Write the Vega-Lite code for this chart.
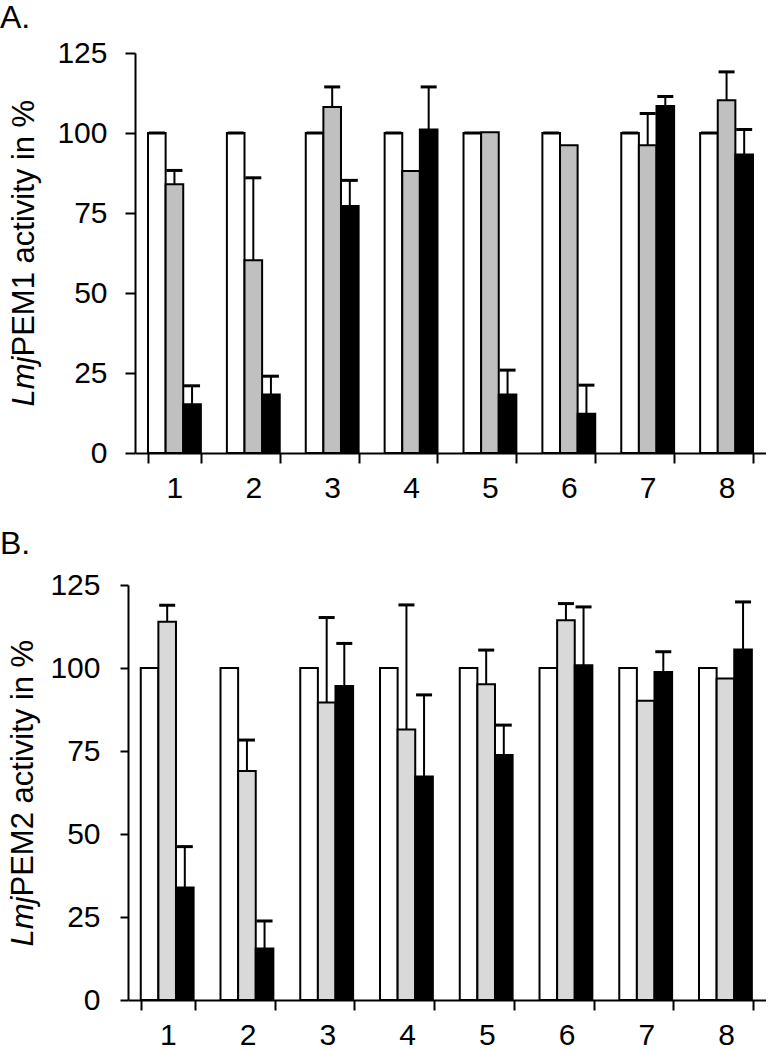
{
  "$schema": "https://vega.github.io/schema/vega-lite/v6.json",
  "padding": {"left": 0, "top": 2, "right": 0, "bottom": 0},
  "spacing": 25,
  "align": "none",
  "bounds": "full",
  "resolve": {"scale": {"fill": "independent"}},
  "config": {
    "view": {"stroke": null},
    "font": "Liberation Sans",
    "axis": {"labelFont": "Liberation Sans", "titleFont": "Liberation Sans", "labelColor": "black", "titleColor": "black", "domainColor": "black", "tickColor": "black", "grid": false, "domainWidth": 2, "tickWidth": 2, "titleFontWeight": "normal"}
  },
  "datasets": {
    "pem1": [
      {"group": "1", "series": "c", "value": 100, "hi": 100},
      {"group": "1", "series": "g", "value": 84, "hi": 88.3},
      {"group": "1", "series": "k", "value": 15.2, "hi": 21},
      {"group": "2", "series": "c", "value": 100, "hi": 100},
      {"group": "2", "series": "g", "value": 60.2, "hi": 86},
      {"group": "2", "series": "k", "value": 18.3, "hi": 24},
      {"group": "3", "series": "c", "value": 100, "hi": 100},
      {"group": "3", "series": "g", "value": 108.1, "hi": 114.4},
      {"group": "3", "series": "k", "value": 77.2, "hi": 85.2},
      {"group": "4", "series": "c", "value": 100, "hi": 100},
      {"group": "4", "series": "g", "value": 88.1, "hi": null},
      {"group": "4", "series": "k", "value": 101.1, "hi": 114.4},
      {"group": "5", "series": "c", "value": 100, "hi": 100},
      {"group": "5", "series": "g", "value": 100.2, "hi": null},
      {"group": "5", "series": "k", "value": 18.3, "hi": 25.9},
      {"group": "6", "series": "c", "value": 100, "hi": 100},
      {"group": "6", "series": "g", "value": 96.2, "hi": null},
      {"group": "6", "series": "k", "value": 12.3, "hi": 21.2},
      {"group": "7", "series": "c", "value": 100, "hi": 100},
      {"group": "7", "series": "g", "value": 96.2, "hi": 106.1},
      {"group": "7", "series": "k", "value": 108.4, "hi": 111.4},
      {"group": "8", "series": "c", "value": 100, "hi": 100},
      {"group": "8", "series": "g", "value": 110.2, "hi": 119.1},
      {"group": "8", "series": "k", "value": 93.3, "hi": 101.1}
    ],
    "pem2": [
      {"group": "1", "series": "c", "value": 100, "hi": null},
      {"group": "1", "series": "g", "value": 113.9, "hi": 118.9},
      {"group": "1", "series": "k", "value": 33.9, "hi": 46.2},
      {"group": "2", "series": "c", "value": 100, "hi": null},
      {"group": "2", "series": "g", "value": 69, "hi": 78.3},
      {"group": "2", "series": "k", "value": 15.5, "hi": 23.8},
      {"group": "3", "series": "c", "value": 100, "hi": null},
      {"group": "3", "series": "g", "value": 89.6, "hi": 115.2},
      {"group": "3", "series": "k", "value": 94.6, "hi": 107.4},
      {"group": "4", "series": "c", "value": 100, "hi": null},
      {"group": "4", "series": "g", "value": 81.5, "hi": 119},
      {"group": "4", "series": "k", "value": 67.3, "hi": 91.9},
      {"group": "5", "series": "c", "value": 100, "hi": null},
      {"group": "5", "series": "g", "value": 95.1, "hi": 105.4},
      {"group": "5", "series": "k", "value": 73.8, "hi": 82.8},
      {"group": "6", "series": "c", "value": 100, "hi": null},
      {"group": "6", "series": "g", "value": 114.4, "hi": 119.4},
      {"group": "6", "series": "k", "value": 100.8, "hi": 118.4},
      {"group": "7", "series": "c", "value": 100, "hi": null},
      {"group": "7", "series": "g", "value": 90.1, "hi": null},
      {"group": "7", "series": "k", "value": 98.8, "hi": 104.9},
      {"group": "8", "series": "c", "value": 100, "hi": null},
      {"group": "8", "series": "g", "value": 96.8, "hi": null},
      {"group": "8", "series": "k", "value": 105.6, "hi": 119.9}
    ]
  },
  "vconcat": [
    {
      "width": 638,
      "height": 400,
      "title": {"text": "A.", "anchor": "start", "frame": "bounds", "fontSize": 32, "fontWeight": "normal", "font": "Liberation Sans", "color": "black", "baseline": "alphabetic", "offset": -22, "dx": -8},
      "data": {"name": "pem1"},
      "encoding": {
        "x": {"field": "group", "type": "ordinal", "scale": {"range": [7, 638], "paddingInner": 0.33, "paddingOuter": 0.165},
              "axis": {"title": null, "labelAngle": 0, "labelFontSize": 30, "tickSize": 10, "tickBand": "extent", "labelPadding": 10}},
        "xOffset": {"field": "series", "type": "nominal", "scale": {"paddingInner": 0, "paddingOuter": 0}}
      },
      "layer": [
        {
          "mark": {"type": "bar", "stroke": "black", "strokeWidth": 2},
          "encoding": {
            "y": {"field": "value", "type": "quantitative", "scale": {"domain": [0, 125], "nice": false},
                  "axis": {"offset": -7, "values": [0, 25, 50, 75, 100, 125], "labelFontSize": 30, "labelPadding": 18, "tickSize": 10,
                           "title": "PEM1 activity in %", "titleFontSize": 31, "titleAngle": -90, "titleAlign": "left", "titleBaseline": "alphabetic", "titleX": -102, "titleY": 303}},
            "fill": {"field": "series", "type": "nominal", "scale": {"domain": ["c", "g", "k"], "range": ["#ffffff", "#c0c0c0", "#000000"]}, "legend": null}
          }
        },
        {
          "transform": [{"filter": "datum.hi != null"}],
          "mark": {"type": "rule", "color": "black", "strokeWidth": 2},
          "encoding": {
            "y": {"field": "value", "type": "quantitative", "scale": {"domain": [0, 125], "nice": false},
                  "axis": {"orient": "left", "offset": -7, "labels": false, "ticks": false, "domain": false, "title": "Lmj", "titleFontStyle": "italic", "titleFontSize": 31, "titleAngle": -90, "titleAlign": "right", "titleBaseline": "alphabetic", "titleX": -102, "titleY": 303}},
            "y2": {"field": "hi"}
          }
        },
        {
          "transform": [{"filter": "datum.hi != null"}],
          "mark": {"type": "tick", "orient": "horizontal", "size": 16, "thickness": 3, "color": "black", "opacity": 1},
          "encoding": {
            "y": {"field": "hi", "type": "quantitative", "scale": {"domain": [0, 125], "nice": false}, "axis": null}
          }
        }
      ],
      "resolve": {"axis": {"y": "independent"}}
    },
    {
      "width": 638,
      "height": 415,
      "title": {"text": "B.", "anchor": "start", "frame": "bounds", "fontSize": 32, "fontWeight": "normal", "font": "Liberation Sans", "color": "black", "baseline": "alphabetic", "offset": -16, "dx": -7},
      "data": {"name": "pem2"},
      "encoding": {
        "x": {"field": "group", "type": "ordinal", "scale": {"paddingInner": 0.32, "paddingOuter": 0.16},
              "axis": {"title": null, "labelAngle": 0, "labelFontSize": 30, "tickSize": 10, "tickBand": "extent", "labelPadding": 10}},
        "xOffset": {"field": "series", "type": "nominal", "scale": {"paddingInner": 0, "paddingOuter": 0}}
      },
      "layer": [
        {
          "mark": {"type": "bar", "stroke": "black", "strokeWidth": 2},
          "encoding": {
            "y": {"field": "value", "type": "quantitative", "scale": {"domain": [0, 125], "nice": false},
                  "axis": {"values": [0, 25, 50, 75, 100, 125], "labelFontSize": 30, "labelPadding": 20, "tickSize": 8,
                           "title": "PEM2 activity in %", "titleFontSize": 31, "titleAngle": -90, "titleAlign": "left", "titleBaseline": "alphabetic", "titleX": -96, "titleY": 311}},
            "fill": {"field": "series", "type": "nominal", "scale": {"domain": ["c", "g", "k"], "range": ["#ffffff", "#d9d9d9", "#000000"]}, "legend": null}
          }
        },
        {
          "transform": [{"filter": "datum.hi != null"}],
          "mark": {"type": "rule", "color": "black", "strokeWidth": 2},
          "encoding": {
            "y": {"field": "value", "type": "quantitative", "scale": {"domain": [0, 125], "nice": false},
                  "axis": {"orient": "left", "labels": false, "ticks": false, "domain": false, "title": "Lmj", "titleFontStyle": "italic", "titleFontSize": 31, "titleAngle": -90, "titleAlign": "right", "titleBaseline": "alphabetic", "titleX": -96, "titleY": 311}},
            "y2": {"field": "hi"}
          }
        },
        {
          "transform": [{"filter": "datum.hi != null"}],
          "mark": {"type": "tick", "orient": "horizontal", "size": 16, "thickness": 3, "color": "black", "opacity": 1},
          "encoding": {
            "y": {"field": "hi", "type": "quantitative", "scale": {"domain": [0, 125], "nice": false}, "axis": null}
          }
        }
      ],
      "resolve": {"axis": {"y": "independent"}}
    }
  ]
}
